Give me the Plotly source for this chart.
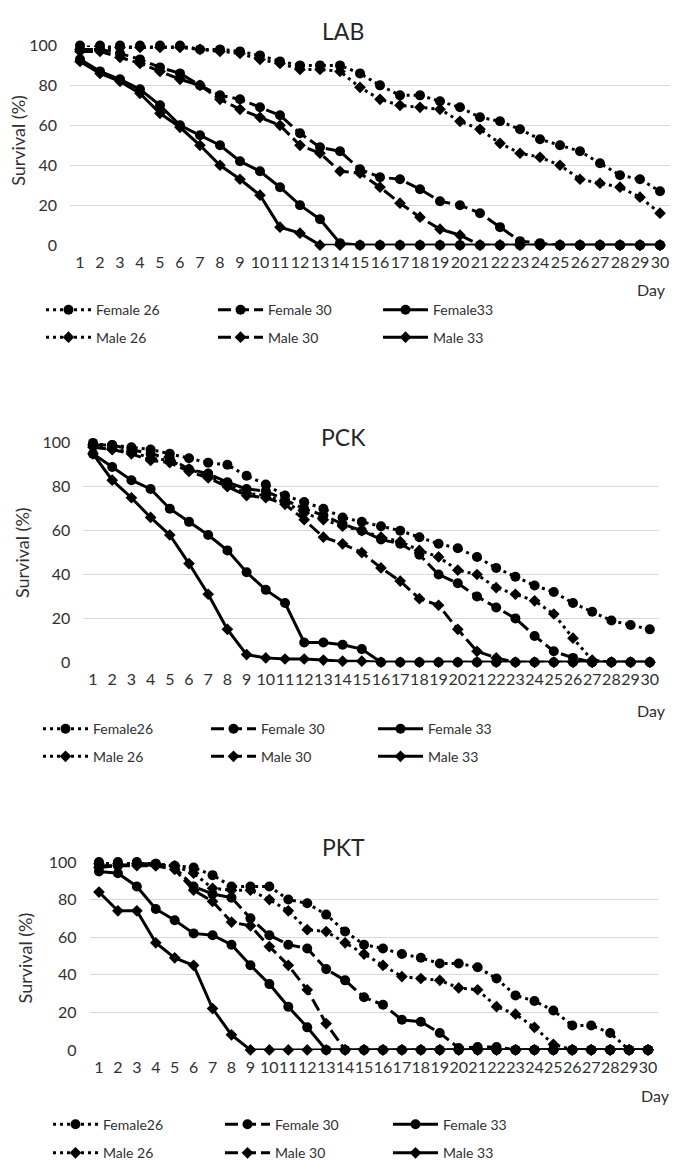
import plotly.graph_objects as go

# ---------------- data ----------------
days = list(range(1, 31))
y_ticks = [0, 20, 40, 60, 80, 100]

lab_f26 = [100,100,100,100,100,100,98,98,97,95,92,90,90,90,86,80,75,75,72,69,64,62,58,53,50,47,41,35,33,27]
lab_f30 = [98,98,96,93,89,86,80,75,73,69,65,56,49,47,38,34,33,28,22,20,16,9,2,1,0,0,0,0,0,0]
lab_f33 = [93,87,83,78,70,60,55,50,42,37,29,20,13,1,0,0,0,0,0,0,0,0,0,0,0,0,0,0,0,0]
lab_m26 = [98,98,99,99,99,99,98,97,96,93,91,88,88,87,79,73,70,69,68,62,58,51,46,44,40,33,31,29,24,16]
lab_m30 = [97,97,94,91,87,83,80,73,68,64,60,50,46,37,36,29,21,14,8,5,0,0,0,0,0,0,0,0,0,0]
lab_m33 = [92,86,82,76,66,59,50,40,33,25,9,6,0,0,0,0,0,0,0,0,0,0,0,0,0,0,0,0,0,0]

pck_f26 = [100,99,98,97,95,93,91,90,85,81,76,73,70,66,64,62,60,57,54,52,48,43,39,35,32,27,23,19,17,15]
pck_f30 = [99,99,97,95,93,88,86,82,79,78,74,70,67,63,60,56,54,49,40,36,30,25,20,12,5,2,0,0,0,0]
pck_f33 = [95,89,83,79,70,64,58,51,41,33,27,9,9,8,6,0,0,0,0,0,0,0,0,0,0,0,0,0,0,0]
pck_m26 = [99,97,96,93,92,88,85,81,77,76,73,68,65,62,60,57,55,51,48,42,40,34,31,28,22,11,1,0,0,0]
pck_m30 = [98,97,95,92,91,87,84,80,76,75,72,65,57,54,50,43,37,29,26,15,5,2,0,0,0,0,0,0,0,0]
pck_m33 = [95,83,75,66,58,45,31,15,3.5,2,1.5,1.5,1,0.5,0.5,0,0,0,0,0,0,0,0,0,0,0,0,0,0,0]

pkt_f26 = [100,100,100,99,98,97,93,87,87,87,80,78,72,63,56,54,51,49,46,46,44,38,29,26,21,13,13,9,0,0]
pkt_f30 = [98,98,99,99,97,87,83,81,70,61,56,54,43,37,28,24,16,15,9,1,1.5,1.5,0,0,0,0,0,0,0,0]
pkt_f33 = [95,94,87,75,69,62,61,56,45,35,23,12,0,0,0,0,0,0,0,0,0,0,0,0,0,0,0,0,0,0]
pkt_m26 = [99,99,99,98,98,94,86,85,85,80,74,64,63,57,51,45,39,38,37,33,32,23,19,12,3,0,0,0,0,0]
pkt_m30 = [97,98,98,98,96,85,79,68,66,55,45,32,14,0,0,0,0,0,0,0,0,0,0,0,0,0,0,0,0,0]
pkt_m33 = [84,74,74,57,49,45,22,8,0,0,0,0,0,0,0,0,0,0,0,0,0,0,0,0,0,0,0,0,0,0]

lab_names = ["Female 26", "Female 30", "Female33", "Male 26", "Male 30", "Male 33"]
pck_names = ["Female26", "Female 30", "Female 33", "Male 26", "Male 30", "Male 33"]
pkt_names = ["Female26", "Female 30", "Female 33", "Male 26", "Male 30", "Male 33"]

# ---------------- layout constants ----------------
W, H = 674, 1174
FONT = "Lato"
TXT = "#303030"

def fx(px):
    return px / W

def fy(py):
    return 1 - py / H

panels = [
    dict(title="LAB", names=lab_names,
         series=[lab_f26, lab_f30, lab_f33, lab_m26, lab_m30, lab_m33],
         px=(70, 670), py=(36, 239), title_xy=(343, 21), ytitle_xy=(18, 133),
         day_xy=(651, 284), rows=(305, 333), text_x=(96, 268, 433)),
    dict(title="PCK", names=pck_names,
         series=[pck_f26, pck_f30, pck_f33, pck_m26, pck_m30, pck_m33],
         px=(83.4, 659.4), py=(440, 663), title_xy=(343, 434), ytitle_xy=(22, 552),
         day_xy=(651, 712), rows=(731, 759), text_x=(93, 261, 428)),
    dict(title="PKT", names=pkt_names,
         series=[pkt_f26, pkt_f30, pkt_f33, pkt_m26, pkt_m30, pkt_m33],
         px=(89.5, 657.5), py=(866, 1057), title_xy=(343, 851), ytitle_xy=(25, 963),
         day_xy=(655, 1103), rows=(1133, 1162), text_x=(103, 275, 443)),
]

dashes = ["3px,4px", "13px,5px", "solid", "3px,4px", "13px,5px", "solid"]
symbols = ["circle", "circle", "circle", "diamond", "diamond", "diamond"]
msizes = [10, 10, 10, 9, 9, 9]

ITEMW = 45
TEXTGAP = ITEMW + 10

fig = go.Figure()
layout = dict(width=W, height=H, margin=dict(l=0, r=0, t=0, b=0),
              paper_bgcolor="white", plot_bgcolor="white",
              font=dict(family=FONT, color=TXT), annotations=[])

leg_idx = 0
for i, p in enumerate(panels):
    n = "" if i == 0 else str(i + 1)
    xa, ya = "x" + n, "y" + n
    layout["xaxis" + n] = dict(
        domain=[fx(p["px"][0]), fx(p["px"][1])], anchor=ya,
        range=[0.5, 30.5], tickmode="array", tickvals=days,
        ticktext=[str(d) for d in days], tickangle=0,
        showgrid=False, zeroline=False, showline=False, ticks="",
        tickfont=dict(size=16, family=FONT, color=TXT), ticklabelstandoff=6)
    layout["yaxis" + n] = dict(
        domain=[fy(p["py"][1]), fy(p["py"][0])], anchor=xa,
        range=[0, 100], tickmode="array", tickvals=y_ticks,
        showgrid=True, gridcolor="#d9d9d9", gridwidth=1.3,
        zeroline=False, showline=False, ticks="",
        tickfont=dict(size=16, family=FONT, color=TXT), ticklabelstandoff=12)

    # two legends per panel (female row, male row)
    legs = []
    for r in range(2):
        leg_idx += 1
        lname = "legend" if leg_idx == 1 else "legend%d" % leg_idx
        legs.append("legend" if leg_idx == 1 else "legend%d" % leg_idx)
        layout[lname] = dict(
            orientation="h", x=fx(p["text_x"][0] - TEXTGAP), xanchor="left",
            y=fy(p["rows"][r]), yanchor="middle", itemwidth=ITEMW,
            font=dict(size=14, family=FONT, color=TXT), bgcolor="rgba(0,0,0,0)",
            traceorder="normal", itemclick=False, itemdoubleclick=False)

    tx = p["text_x"]
    widths = [tx[1] - tx[0] - 60, tx[2] - tx[1] - 60, 90]
    for k in range(6):
        fig.add_trace(go.Scatter(
            x=days, y=p["series"][k], name=p["names"][k],
            mode="lines+markers", xaxis=xa, yaxis=ya,
            legend=legs[k // 3], legendwidth=widths[k % 3],
            line=dict(color="black", width=3, dash=dashes[k]),
            marker=dict(symbol=symbols[k], size=msizes[k], color="black"),
            cliponaxis=False, hoverinfo="skip"))

    layout["annotations"] += [
        dict(text=p["title"], x=fx(p["title_xy"][0]), y=fy(p["title_xy"][1]),
             xref="paper", yref="paper", showarrow=False, xanchor="center",
             yanchor="middle", font=dict(size=23, family=FONT, color="#262626")),
        dict(text="Survival (%)", x=fx(p["ytitle_xy"][0]), y=fy(p["ytitle_xy"][1]),
             xref="paper", yref="paper", showarrow=False, textangle=-90,
             xanchor="center", yanchor="middle",
             font=dict(size=18, family=FONT, color=TXT)),
        dict(text="Day", x=fx(p["day_xy"][0]), y=fy(p["day_xy"][1]),
             xref="paper", yref="paper", showarrow=False, xanchor="center",
             yanchor="middle", font=dict(size=16, family=FONT, color=TXT)),
    ]

fig.update_layout(**layout)
fig.write_html("out.html")
